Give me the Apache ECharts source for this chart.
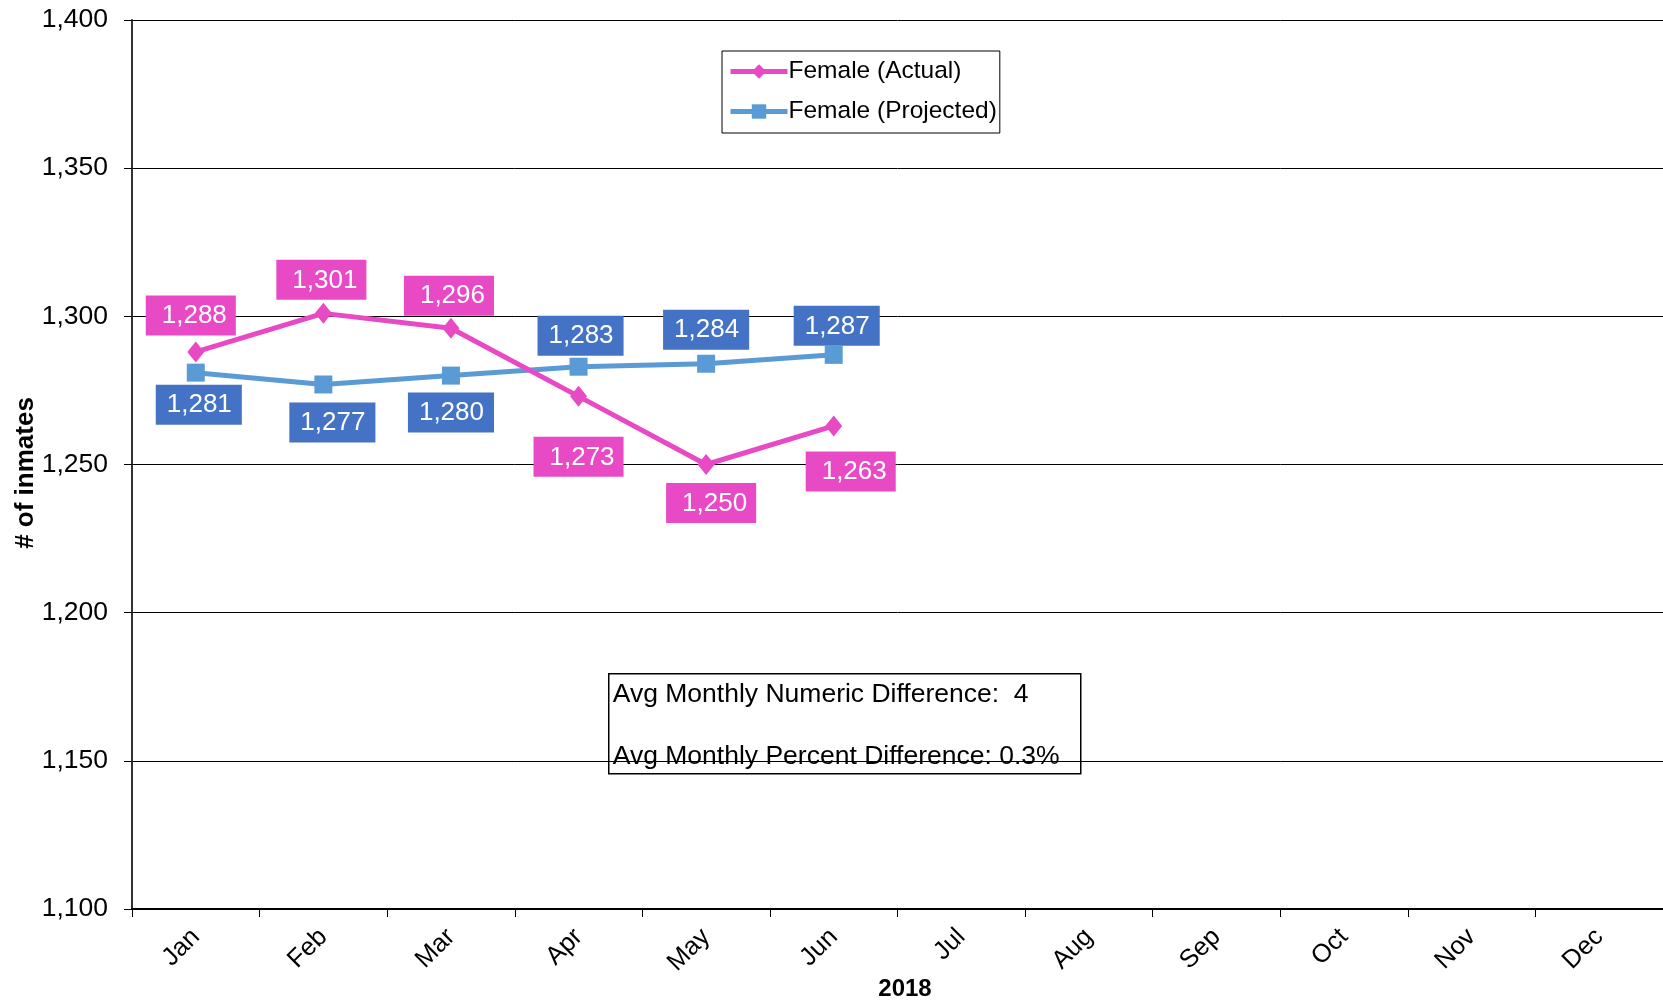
<!DOCTYPE html>
<html>
<head>
<meta charset="utf-8">
<script src="https://cdn.jsdelivr.net/npm/echarts@6/dist/echarts.min.js"></script>
<style>
  html,body{margin:0;padding:0;background:#fff;}
  #chart{width:1663px;height:1002px;}
</style>
</head>
<body>
<div id="chart"></div>
<script>
// months on the x axis
const months = ['Jan', 'Feb', 'Mar', 'Apr', 'May', 'Jun', 'Jul', 'Aug', 'Sep', 'Oct', 'Nov', 'Dec'];
// inmate counts, 2018
const femaleActual = [1288, 1301, 1296, 1273, 1250, 1263];
const femaleProjected = [1281, 1277, 1280, 1283, 1284, 1287];
const yTicks = { min: 1100, max: 1400, interval: 50 };
const noteLines = ['Avg Monthly Numeric Difference:  4', 'Avg Monthly Percent Difference: 0.3%'];

const pink = '#E84AC5';
const lineBlue = '#5B9BD5';
const boxBlue = '#4472C4';
const font = '"Liberation Sans", Arial, sans-serif';

// where each value label sits relative to its point
const actualLabelPos = [['top', 6, -5], ['top', 3, -2], ['top', 2, -2], ['bottom', 30, 0], ['bottom', 8, 5], ['bottom', 15, 17]];
const projLabelPos = [['bottom', 3, 3], ['bottom', 9, 9], ['bottom', 8, 0], ['top', 2, 2], ['top', 5, 0], ['top', 0, 3]];

function fmt(v) { return v.toLocaleString('en-US'); }

function withLabels(values, pos, bg, pad) {
  return values.map(function (v, i) {
    return {
      value: v,
      label: {
        position: pos[i][0],
        distance: pos[i][1],
        offset: [pos[i][2], 0],
        backgroundColor: bg,
        padding: pad
      }
    };
  });
}

const labelBase = {
  show: true,
  color: '#fff',
  fontFamily: font,
  fontSize: 26,
  lineHeight: 29,
  formatter: function (p) { return fmt(p.value); }
};

var myChart = echarts.init(document.getElementById('chart'));
myChart.setOption({
  animation: false,
  backgroundColor: '#fff',
  textStyle: { fontFamily: font },
  grid: { left: 132, right: 0, top: 20, bottom: 93, outerBoundsMode: 'none' },
  legend: {
    left: 722,
    top: 51,
    orient: 'vertical',
    backgroundColor: '#fff',
    borderColor: '#000',
    borderWidth: 1,
    borderRadius: 0,
    padding: [8, 3, 9, 6],
    itemGap: 15,
    itemWidth: 57,
    itemHeight: 18,
    lineStyle: { width: 5 },
    textStyle: { fontSize: 24.5, color: '#000', fontFamily: font, padding: [0, 0, 0, -4] },
    data: ['Female (Actual)', 'Female (Projected)']
  },
  xAxis: {
    type: 'category',
    data: months,
    boundaryGap: true,
    name: '2018',
    nameLocation: 'middle',
    nameGap: 68,
    nameMoveOverlap: false,
    nameTextStyle: { fontSize: 24, fontWeight: 'bold', color: '#000', fontFamily: font, padding: [0, 0, 0, 15] },
    axisLine: { lineStyle: { color: '#000', width: 2 } },
    axisTick: { show: true, length: 8, lineStyle: { color: '#000', width: 1 } },
    axisLabel: { rotate: 45, fontSize: 25.5, color: '#000', margin: 24, fontFamily: font }
  },
  yAxis: {
    type: 'value',
    min: yTicks.min,
    max: yTicks.max,
    interval: yTicks.interval,
    name: '# of inmates',
    nameLocation: 'middle',
    nameGap: 93,
    nameMoveOverlap: false,
    nameTextStyle: { fontSize: 26, fontWeight: 'bold', color: '#000', fontFamily: font, padding: [0, 17, 0, 0] },
    axisLine: { show: true, lineStyle: { color: '#333', width: 2 } },
    axisTick: { show: true, length: 8, lineStyle: { color: '#000' } },
    axisLabel: { fontSize: 26.5, color: '#000', margin: 24, fontFamily: font, formatter: fmt },
    splitLine: { lineStyle: { color: '#000', width: 1 } }
  },
  graphic: [{
    type: 'group',
    left: 608,
    top: 673,
    children: [{
      type: 'rect',
      shape: { x: 0, y: 0, width: 472, height: 100 },
      style: { fill: '#fff', stroke: '#000', lineWidth: 1.5 }
    }, {
      type: 'text',
      x: 4, y: 21,
      style: { text: noteLines[0], font: '26.5px ' + font, fill: '#000', verticalAlign: 'middle' }
    }, {
      type: 'text',
      x: 4, y: 83,
      style: { text: noteLines[1], font: '26.5px ' + font, fill: '#000', verticalAlign: 'middle' }
    }]
  }],
  series: [{
    name: 'Female (Projected)',
    type: 'line',
    z: 2,
    data: withLabels(femaleProjected, projLabelPos, boxBlue, [6, 10, 5, 11]),
    symbol: 'rect',
    symbolSize: 18,
    lineStyle: { color: lineBlue, width: 5 },
    itemStyle: { color: lineBlue },
    label: labelBase
  }, {
    name: 'Female (Actual)',
    type: 'line',
    z: 3,
    data: withLabels(femaleActual, actualLabelPos, pink, [6, 9, 5, 16]),
    symbol: 'diamond',
    symbolSize: [17, 21],
    lineStyle: { color: pink, width: 5 },
    itemStyle: { color: pink },
    label: labelBase
  }]
});
</script>
</body>
</html>
